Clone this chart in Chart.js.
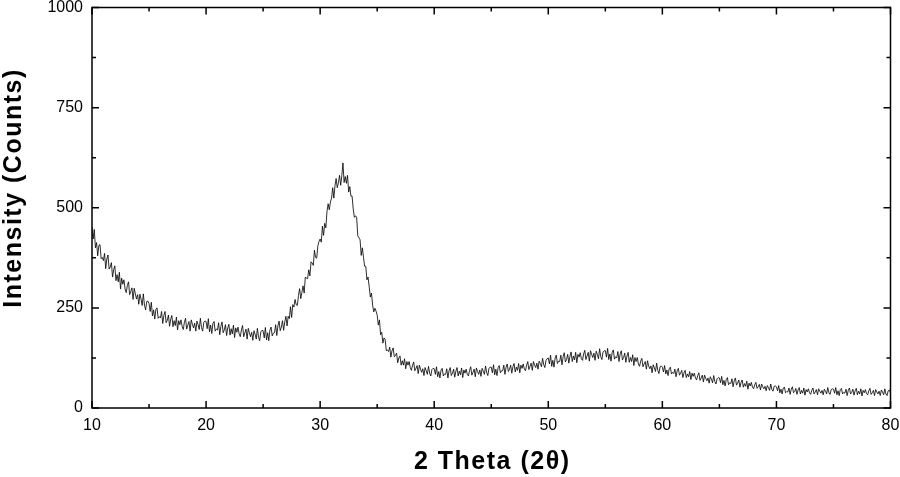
<!DOCTYPE html>
<html>
<head>
<meta charset="utf-8">
<title>XRD pattern</title>
<script src="https://cdn.jsdelivr.net/npm/chart.js@4.4.0/dist/chart.umd.min.js"></script>
<style>
  html, body { margin: 0; padding: 0; background: #fff; }
  #wrap { width: 900px; height: 477px; position: relative; }
</style>
</head>
<body>
<div id="wrap"><canvas id="xrdChart"></canvas></div>
<script>
// 2θ grid of the scan: 10° to 80° every 0.1°
const thetaStart = 10;
const thetaStep = 0.1;

// intensity, one row per degree (n.0 ... n.9)
const intensity = [
    451, 422, 446, 400, 413, 380, 406, 408, 373, 376,   // 10
    368, 386, 348, 372, 382, 347, 352, 363, 327, 346,   // 11
    355, 318, 333, 315, 339, 297, 324, 309, 320, 297,   // 12
    288, 306, 315, 283, 291, 300, 271, 299, 285, 272,   // 13
    283, 259, 284, 272, 256, 285, 257, 245, 266, 267,   // 14
    261, 241, 264, 230, 245, 222, 246, 250, 224, 228,   // 15
    225, 241, 211, 231, 241, 213, 219, 232, 204, 222,   // 16
    231, 203, 218, 206, 227, 195, 218, 208, 220, 204,   // 17
    196, 214, 224, 197, 207, 216, 192, 220, 209, 200,   // 18
    212, 192, 217, 208, 196, 224, 201, 192, 214, 217,   // 19
    216, 198, 223, 190, 207, 186, 211, 216, 192, 197,   // 20
    195, 213, 183, 204, 215, 188, 195, 208, 181, 200,   // 21
    209, 182, 198, 185, 207, 176, 200, 189, 202, 185,   // 22
    178, 195, 206, 178, 188, 197, 172, 199, 188, 178,   // 23
    189, 169, 193, 184, 172, 199, 177, 168, 190, 194,   // 24
    193, 175, 201, 170, 188, 168, 195, 202, 180, 187,   // 25
    188, 208, 181, 205, 217, 193, 202, 218, 194, 215,   // 26
    229, 205, 229, 223, 253, 226, 258, 252, 271, 258,   // 27
    256, 281, 298, 273, 289, 305, 287, 327, 324, 323,   // 28
    345, 330, 365, 362, 356, 394, 376, 374, 405, 416,   // 29
    422, 414, 454, 431, 461, 450, 491, 510, 495, 514,   // 30
    524, 550, 524, 555, 573, 550, 562, 581, 556, 580,   // 31
    612, 563, 578, 561, 581, 539, 553, 529, 529, 497,   // 32
    476, 480, 476, 430, 425, 420, 381, 400, 376, 354,   // 33
    354, 320, 327, 303, 277, 287, 257, 240, 249, 242,   // 34
    232, 207, 220, 183, 189, 162, 175, 171, 143, 145,   // 35
    141, 152, 127, 143, 150, 128, 131, 137, 113, 125,   // 36
    130, 107, 118, 107, 123,  98, 116, 107, 116, 101,   // 37
     94, 107, 115,  93,  99, 106,  86, 107,  97,  89,   // 38
     98,  81, 101,  93,  84, 104,  87,  80,  96,  99,   // 39
     98,  84, 103,  78,  91,  75,  95,  99,  80,  85,   // 40
     84,  98,  75,  93, 101,  81,  87,  97,  77,  92,   // 41
    101,  80,  92,  83, 100,  76,  95,  87,  97,  84,   // 42
     80,  94, 103,  82,  89,  97,  78, 100,  91,  84,   // 43
     95,  79,  99,  92,  84, 105,  88,  81,  99, 102,   // 44
    102,  88, 108,  83,  97,  81, 101, 106,  88,  93,   // 45
     93, 107,  84, 102, 110,  91,  97, 107,  87, 103,   // 46
    111,  90, 102,  94, 111,  88, 107,  99, 110,  97,   // 47
     93, 107, 116,  96, 104, 112,  94, 116, 107, 101,   // 48
    112,  97, 117, 111, 103, 124, 108, 101, 119, 123,   // 49
    125, 110, 132, 104, 119, 102, 125, 132, 111, 117,   // 50
    116, 132, 108, 128, 138, 115, 121, 134, 112, 129,   // 51
    140, 116, 130, 120, 139, 113, 134, 127, 138, 123,   // 52
    119, 135, 144, 121, 130, 139, 117, 143, 134, 126,   // 53
    137, 119, 142, 134, 123, 148, 128, 121, 140, 143,   // 54
    143, 127, 149, 121, 135, 117, 139, 145, 122, 128,   // 55
    125, 141, 116, 135, 143, 120, 126, 137, 114, 130,   // 56
    139, 114, 126, 116, 133, 106, 126, 116, 126, 110,   // 57
    104, 117, 124, 103, 110, 116,  97, 118, 105,  98,   // 58
    105,  88, 108, 100,  91, 112,  94,  86, 103, 105,   // 59
    102,  90, 106,  85,  95,  81,  98, 102,  85,  89,   // 60
     86,  97,  78,  93,  99,  82,  87,  94,  76,  88,   // 61
     94,  76,  85,  78,  91,  71,  87,  79,  87,  75,   // 62
     70,  81,  88,  69,  75,  82,  65,  82,  74,  68,   // 63
     75,  62,  78,  72,  63,  81,  66,  60,  73,  76,   // 64
     75,  63,  79,  58,  69,  55,  71,  76,  58,  63,   // 65
     61,  73,  53,  68,  75,  57,  62,  70,  52,  64,   // 66
     70,  52,  61,  54,  67,  47,  62,  55,  64,  52,   // 67
     48,  58,  64,  49,  53,  59,  45,  60,  53,  48,   // 68
     54,  43,  56,  51,  44,  60,  46,  42,  54,  55,   // 69
     53,  43,  56,  38,  47,  35,  50,  52,  38,  41,   // 70
     40,  50,  34,  47,  53,  38,  41,  49,  34,  45,   // 71
     51,  35,  44,  37,  50,  32,  46,  40,  48,  38,   // 72
     34,  44,  50,  35,  40,  46,  33,  48,  42,  37,   // 73
     44,  33,  47,  42,  35,  51,  38,  34,  46,  48,   // 74
     47,  37,  51,  33,  43,  31,  46,  49,  35,  39,   // 75
     37,  47,  31,  44,  50,  35,  39,  47,  32,  43,   // 76
     49,  33,  42,  35,  48,  30,  44,  38,  46,  36,   // 77
     33,  43,  49,  34,  38,  44,  31,  46,  40,  35,   // 78
     42,  31,  45,  40,  33,  48,  35,  31,  43,  45,   // 79
     38                                                 // 80
];

const xTickValues  = [10, 20, 30, 40, 50, 60, 70, 80];
const xMinorValues = [15, 25, 35, 45, 55, 65, 75];
const yTickValues  = [0, 250, 500, 750, 1000];
const yMinorValues = [125, 375, 625, 875];

const xTitle = '2 Theta (2θ)';
const yTitle = 'Intensity (Counts)';

const FONT = '"Liberation Sans", Arial, sans-serif';

const points = intensity.map((v, i) => ({ x: thetaStart + i * thetaStep, y: v }));

// Chart.js grows the chart area padding for the end tick labels; we want
// the plot box where the reference has it
function noEdgePadding(s) {
    s.paddingTop = 0;
    s.paddingBottom = 0;
    s.paddingLeft = 0;
    s.paddingRight = 0;
}

// box round the plot, inward ticks on all four sides, axis titles
const framePlugin = {
    id: 'frame',
    afterDraw(chart) {
        const { ctx, chartArea: a, scales: { x, y } } = chart;
        ctx.save();
        ctx.strokeStyle = '#000';
        ctx.lineWidth = 1.5;
        ctx.strokeRect(a.left, a.top, a.right - a.left, a.bottom - a.top);

        ctx.beginPath();
        const xMarks = (list, len) => list.forEach(v => {
            const px = x.getPixelForValue(v);
            ctx.moveTo(px, a.bottom); ctx.lineTo(px, a.bottom - len);
            ctx.moveTo(px, a.top);    ctx.lineTo(px, a.top + len);
        });
        const yMarks = (list, len) => list.forEach(v => {
            const py = y.getPixelForValue(v);
            ctx.moveTo(a.left, py);  ctx.lineTo(a.left + len, py);
            ctx.moveTo(a.right, py); ctx.lineTo(a.right - len, py);
        });
        xMarks(xTickValues, 7);
        xMarks(xMinorValues, 4);
        yMarks(yTickValues, 7);
        yMarks(yMinorValues, 4);
        ctx.stroke();

        ctx.fillStyle = '#000';
        ctx.font = 'bold 25px ' + FONT;
        ctx.letterSpacing = '1.5px';
        ctx.textAlign = 'center';
        ctx.textBaseline = 'alphabetic';
        ctx.fillText(xTitle, (a.left + a.right) / 2 + 1, 469);

        ctx.translate(21, 188);
        ctx.rotate(-Math.PI / 2);
        ctx.fillText(yTitle, 0, 0);
        ctx.restore();
    }
};

new Chart(document.getElementById('xrdChart').getContext('2d'), {
    type: 'line',
    data: {
        datasets: [{
            data: points,
            borderColor: '#0a0a0a',
            borderWidth: 0.85,
            pointRadius: 0,
            tension: 0,
            fill: false
        }]
    },
    options: {
        responsive: true,
        maintainAspectRatio: false,
        animation: false,
        events: [],
        layout: { padding: { top: 7.5, right: 9.5, left: 0, bottom: 0 } },
        plugins: {
            legend: { display: false },
            tooltip: { enabled: false }
        },
        scales: {
            x: {
                type: 'linear',
                min: 10,
                max: 80,
                afterBuildTicks: s => { s.ticks = xTickValues.map(v => ({ value: v })); },
                afterFit: s => { s.height = 69; noEdgePadding(s); },
                grid: { display: false, drawTicks: false },
                border: { display: false },
                ticks: {
                    color: '#000',
                    font: { size: 16, family: FONT },
                    padding: 8,
                    maxRotation: 0,
                    autoSkip: false,
                    callback: v => String(v)
                }
            },
            y: {
                min: 0,
                max: 1000,
                afterBuildTicks: s => { s.ticks = yTickValues.map(v => ({ value: v })); },
                afterFit: s => { s.width = 92; noEdgePadding(s); },
                grid: { display: false, drawTicks: false },
                border: { display: false },
                ticks: {
                    color: '#000',
                    font: { size: 16, family: FONT },
                    padding: 9,
                    callback: v => String(v)
                }
            }
        }
    },
    plugins: [framePlugin]
});
</script>
</body>
</html>
